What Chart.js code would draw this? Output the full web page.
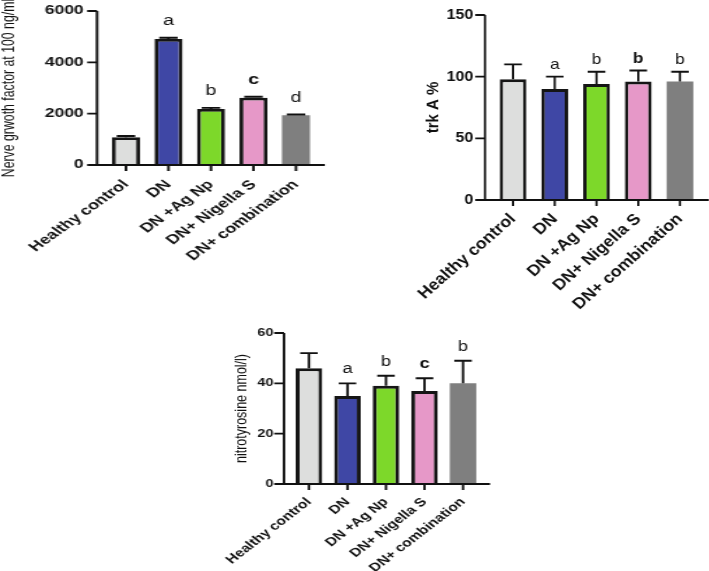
<!DOCTYPE html>
<html>
<head>
<meta charset="utf-8">
<script src="https://cdn.jsdelivr.net/npm/chart.js@4.4.1/dist/chart.umd.min.js"></script>
<style>
  html, body { margin: 0; padding: 0; background: #fff; width: 709px; height: 571px; overflow: hidden; }
  .panel { position: absolute; transform-origin: 0 0; }
  canvas { display: block; }
</style>
</head>
<body>
<div class="panel" style="left:0px;top:0px;transform:scaleX(1.4)"><canvas id="ngf" width="243" height="300"></canvas></div>
<div class="panel" style="left:360px;top:0px;transform:scaleX(1.15)"><canvas id="trk" width="304" height="320"></canvas></div>
<div class="panel" style="left:180px;top:310px;transform:scaleX(1.3)"><canvas id="nitro" width="262" height="261"></canvas></div>
<script>
const groups = ["Healthy control", "DN", "DN +Ag Np", "DN+ Nigella S", "DN+ combination"];
const barColors = ["#dddedd", "#3f47a5", "#7dd82a", "#e698c8", "#7f7f7f"];

// nerve growth factor
const ngfValues = [1080, 4910, 2180, 2620, 1935];
const ngfErrors = [50, 45, 45, 40, 30];
const ngfTicks = [0, 2000, 4000, 6000];
const ngfLetters = ["", "a", "b", "c", "d"];
const ngfBold = [false, false, false, true, false];

// trk A
const trkValues = [98, 90, 94, 96, 96];
const trkErrors = [12, 10, 10, 9, 8];
const trkTicks = [0, 50, 100, 150];
const trkLetters = ["", "a", "b", "b", "b"];
const trkBold = [false, false, false, true, false];

// nitrotyrosine
const nitroValues = [46, 35, 39, 37, 40];
const nitroErrors = [6, 5, 4, 5, 9];
const nitroTicks = [0, 20, 40, 60];
const nitroLetters = ["", "a", "b", "c", "b"];
const nitroBold = [false, false, false, true, false];

Chart.defaults.font.family = "'Liberation Sans', Arial, sans-serif";
Chart.defaults.color = "#111";

// draws the prism-style axes, error bars and significance letters
const figurePlugin = {
  id: "figure",
  afterDatasetsDraw(chart, args, opts) {
    const { ctx, chartArea: area } = chart;
    const y = chart.scales.y;
    const meta = chart.getDatasetMeta(0);
    const values = chart.data.datasets[0].data;
    ctx.save();
    ctx.strokeStyle = "#111";
    ctx.fillStyle = "#111";
    ctx.lineCap = "butt";

    meta.data.forEach((bar, i) => {
      const top = y.getPixelForValue(values[i] + opts.errors[i]);
      const half = bar.width * opts.capFrac / 2;
      ctx.lineWidth = opts.errWidth;
      ctx.beginPath();
      ctx.moveTo(bar.x, bar.y);
      ctx.lineTo(bar.x, top);
      ctx.moveTo(bar.x - half, top);
      ctx.lineTo(bar.x + half, top);
      ctx.stroke();

      if (opts.letters[i]) {
        ctx.font = (opts.bold[i] ? "bold " : "") + opts.letterSize + "px 'Liberation Sans', Arial, sans-serif";
        ctx.textAlign = "center";
        ctx.textBaseline = "alphabetic";
        ctx.fillText(opts.letters[i], bar.x, top - opts.letterGap);
      }
    });

    const ax = area.left - opts.gap;
    ctx.lineWidth = opts.axisWidth;
    ctx.beginPath();
    ctx.moveTo(ax, area.top);
    ctx.lineTo(ax, area.bottom);
    ctx.moveTo(ax, area.bottom);
    ctx.lineTo(area.right + opts.extend, area.bottom);
    y.ticks.forEach((t) => {
      const py = y.getPixelForValue(t.value);
      ctx.moveTo(ax - opts.tickLen, py);
      ctx.lineTo(ax, py);
    });
    meta.data.forEach((bar) => {
      ctx.moveTo(bar.x, area.bottom);
      ctx.lineTo(bar.x, area.bottom + 6);
    });
    ctx.stroke();
    ctx.restore();
  },
};

function makeChart(id, s) {
  const canvas = document.getElementById(id);
  return new Chart(canvas, {
    type: "bar",
    data: {
      labels: groups,
      datasets: [{
        data: s.values,
        backgroundColor: barColors,
        borderColor: "#151515",
        borderWidth: [s.border, s.border, s.border, s.border, 0],
        borderSkipped: "start",
        barPercentage: s.barPct,
        categoryPercentage: 1,
      }],
    },
    options: {
      responsive: false,
      animation: false,
      layout: { padding: { left: s.padLeft, top: s.top, right: canvas.width - s.right, bottom: 0 } },
      plugins: {
        legend: { display: false },
        tooltip: { enabled: false },
        figure: {
          errors: s.errors, letters: s.letters, bold: s.bold,
          capFrac: 0.66, errWidth: 1.9, axisWidth: 1.9,
          gap: s.gap, extend: s.extend, tickLen: s.tickLen,
          letterGap: s.letterGap, letterSize: s.letterSize,
        },
      },
      scales: {
        x: {
          grid: { display: false, drawTicks: false, tickLength: 0 },
          border: { display: false },
          ticks: {
            autoSkip: false, maxRotation: 45, minRotation: 45, padding: s.xPad,
            font: { size: s.xFont, weight: "bold" },
          },
          afterFit: (sc) => { sc.height = canvas.height - s.bottom; },
        },
        y: {
          min: s.ticks[0],
          max: s.ticks[s.ticks.length - 1],
          afterBuildTicks: (sc) => { sc.ticks = s.ticks.map((v) => ({ value: v })); },
          // hidden tick marks only push the labels away from the plot
          grid: { display: false, drawTicks: true, tickLength: s.yPad },
          border: { display: false },
          ticks: {
            padding: 0,
            font: { size: s.yFont, weight: "bold" },
            callback: (v) => String(v),
          },
          title: {
            display: true, text: s.title, padding: 0,
            font: { size: s.titleSize, weight: s.titleWeight, lineHeight: 1 },
          },
          afterFit: (sc) => { sc.width = s.left - s.padLeft; },
        },
      },
    },
    plugins: [figurePlugin],
  });
}

makeChart("ngf", {
  values: ngfValues, errors: ngfErrors, ticks: ngfTicks, letters: ngfLetters, bold: ngfBold,
  title: "Nerve grwoth factor at 100 ng/ml", titleSize: 12.3, titleWeight: "normal",
  left: 74.8, right: 226.6, top: 11, bottom: 165, padLeft: 0,
  gap: 5.5, extend: 5.5, tickLen: 7, yPad: 15, xPad: 12,
  yFont: 12.5, xFont: 13, border: 2.8, barPct: 0.66, letterGap: 13, letterSize: 14,
});

makeChart("trk", {
  values: trkValues, errors: trkErrors, ticks: trkTicks, letters: trkLetters, bold: trkBold,
  title: "trk A %", titleSize: 15, titleWeight: "bold",
  left: 114.9, right: 296.4, top: 15, bottom: 200, padLeft: 56,
  gap: 6.2, extend: 7.1, tickLen: 8.5, yPad: 16.4, xPad: 10,
  yFont: 14, xFont: 15.5, border: 3, barPct: 0.64, letterGap: 8, letterSize: 15,
});

makeChart("nitro", {
  values: nitroValues, errors: nitroErrors, ticks: nitroTicks, letters: nitroLetters, bold: nitroBold,
  title: "nitrotyrosine nmol/l)", titleSize: 12.5, titleWeight: "normal",
  left: 84.4, right: 232.5, top: 23, bottom: 174, padLeft: 41,
  gap: 4.4, extend: 6, tickLen: 7.5, yPad: 12.6, xPad: 11,
  yFont: 11, xFont: 12, border: 3, barPct: 0.69, letterGap: 10, letterSize: 14,
});
</script>
</body>
</html>
